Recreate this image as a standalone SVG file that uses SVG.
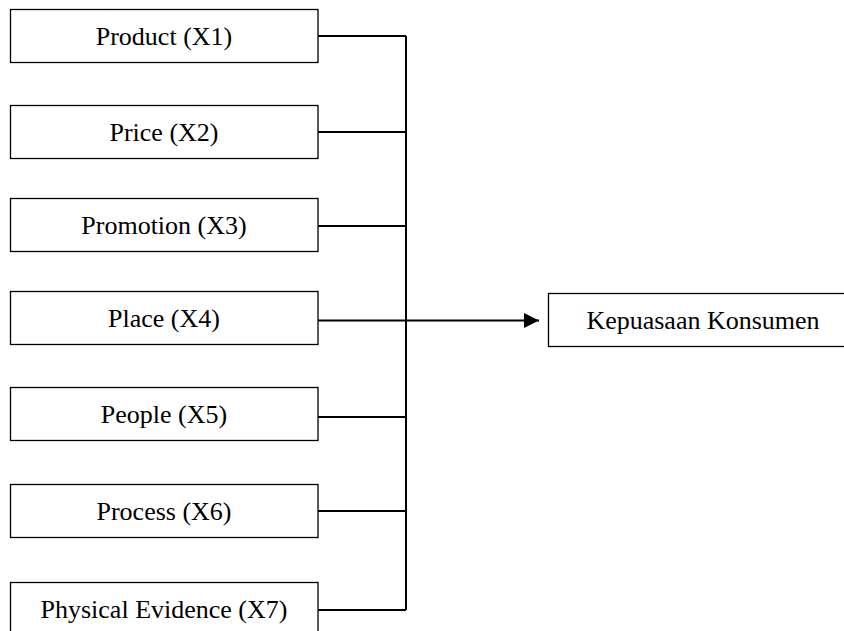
<svg xmlns="http://www.w3.org/2000/svg" width="844" height="631" viewBox="0 0 844 631">
<defs>
<style>
.box{fill:#fff;stroke:#000;stroke-width:1.3}
.lbl{font-family:"Liberation Serif","Times New Roman",serif;font-size:26px;fill:#000;text-anchor:middle}
.con{fill:none;stroke:#000;stroke-width:2}
</style>
<marker id="ah" viewBox="0 0 15 15" refX="15" refY="7.5" markerWidth="15" markerHeight="15" orient="auto" markerUnits="userSpaceOnUse">
<path d="M0,0 L15,7.5 L0,15 z" fill="#000"/>
</marker>
</defs>
<rect width="844" height="631" fill="#fff"/>
<g id="connectors">
<path class="con" d="M318,36 H406 M318,132 H406 M318,226 H406 M318,417 H406 M318,511 H406 M318,610 H406 M406,36 V610"/>
<path class="con" d="M318,320.5 H539" stroke-width="2.8" marker-end="url(#ah)"/>
</g>
<g id="n1"><rect class="box" x="10.5" y="9.5" width="307.5" height="53"/><text class="lbl" x="164" y="44.5">Product (X1)</text></g>
<g id="n2"><rect class="box" x="10.5" y="105.5" width="307.5" height="53"/><text class="lbl" x="164" y="140.5">Price (X2)</text></g>
<g id="n3"><rect class="box" x="10.5" y="198.5" width="307.5" height="53"/><text class="lbl" x="164" y="233.5">Promotion (X3)</text></g>
<g id="n4"><rect class="box" x="10.5" y="291.5" width="307.5" height="53"/><text class="lbl" x="164" y="326.5">Place (X4)</text></g>
<g id="n5"><rect class="box" x="10.5" y="387.5" width="307.5" height="53"/><text class="lbl" x="164" y="422.5">People (X5)</text></g>
<g id="n6"><rect class="box" x="10.5" y="484.5" width="307.5" height="53"/><text class="lbl" x="164" y="519.5">Process (X6)</text></g>
<g id="n7"><rect class="box" x="10.5" y="582.5" width="307.5" height="53"/><text class="lbl" x="164" y="617.5">Physical Evidence (X7)</text></g>
<g id="target"><rect class="box" x="548.5" y="293.5" width="310" height="53"/><text class="lbl" x="703" y="328.5">Kepuasaan Konsumen</text></g>
</svg>
